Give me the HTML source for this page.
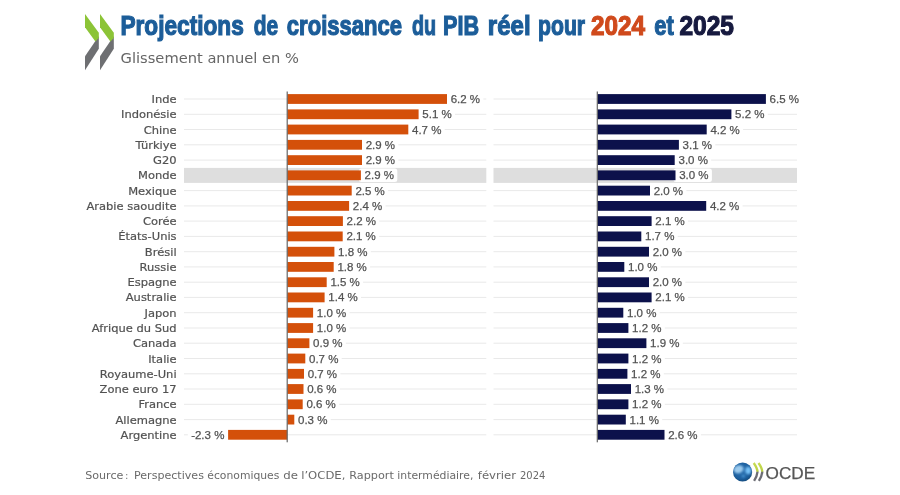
<!DOCTYPE html>
<html lang="fr"><head><meta charset="utf-8"><title>Projections de croissance du PIB réel pour 2024 et 2025</title>
<style>
html,body{margin:0;padding:0;background:#fff;}
body{width:900px;height:495px;overflow:hidden;}
svg{display:block;font-family:"DejaVu Sans","Liberation Sans",sans-serif;}
.lab{font-size:10.7px;fill:#525252;stroke:#525252;stroke-width:0.2px;text-anchor:end;}
.val{font-family:"Liberation Sans","DejaVu Sans",sans-serif;font-size:11.5px;fill:#525252;stroke:#525252;stroke-width:0.25px;}
.valr{text-anchor:end;}
.t{font-family:"Liberation Sans","DejaVu Sans Condensed",sans-serif;font-weight:bold;font-size:27.5px;}
</style></head><body>
<svg width="900" height="495" viewBox="0 0 900 495">
<rect width="900" height="495" fill="#fff"/>

<g id="chev">
<polygon points="85.00,56.20 98.80,36.00 98.80,48.80 85.00,70.20" fill="#6e6f72"/>
<polygon points="85.00,14.00 98.80,32.80 98.80,38.00 95.40,41.60 85.00,27.20" fill="#8cc437"/>
<polygon points="100.00,56.20 113.80,36.00 113.80,48.80 100.00,70.20" fill="#6e6f72"/>
<polygon points="100.00,14.00 113.80,32.80 113.80,38.00 110.40,41.60 100.00,27.20" fill="#8cc437"/>
</g>
<text class="t" y="35.3" stroke-width="1.2"><tspan x="120.4" textLength="123.4" lengthAdjust="spacingAndGlyphs" fill="#1c5d99" stroke="#1c5d99">Projections</tspan> <tspan x="253.8" textLength="24.4" lengthAdjust="spacingAndGlyphs" fill="#1c5d99" stroke="#1c5d99">de</tspan> <tspan x="286.8" textLength="115.3" lengthAdjust="spacingAndGlyphs" fill="#1c5d99" stroke="#1c5d99">croissance</tspan> <tspan x="411.9" textLength="24.2" lengthAdjust="spacingAndGlyphs" fill="#1c5d99" stroke="#1c5d99">du</tspan> <tspan x="443.1" textLength="36.0" lengthAdjust="spacingAndGlyphs" fill="#1c5d99" stroke="#1c5d99">PIB</tspan> <tspan x="487.8" textLength="42.8" lengthAdjust="spacingAndGlyphs" fill="#1c5d99" stroke="#1c5d99">réel</tspan> <tspan x="538.0" textLength="47.1" lengthAdjust="spacingAndGlyphs" fill="#1c5d99" stroke="#1c5d99">pour</tspan> <tspan x="591.0" textLength="54.0" lengthAdjust="spacingAndGlyphs" fill="#d04a1c" stroke="#d04a1c">2024</tspan> <tspan x="654.3" textLength="19.5" lengthAdjust="spacingAndGlyphs" fill="#1c5d99" stroke="#1c5d99">et</tspan> <tspan x="679.4" textLength="54.6" lengthAdjust="spacingAndGlyphs" fill="#171a3f" stroke="#171a3f">2025</tspan></text>
<text x="120.6" y="62.8" font-size="14px" fill="#666" textLength="178.3" lengthAdjust="spacingAndGlyphs">Glissement annuel en %</text>
<rect x="184" y="167.9" width="302.3" height="15" fill="#dedede"/>
<rect x="493.5" y="167.9" width="303.5" height="15" fill="#dedede"/>
<rect x="184" y="98.5" width="302.3" height="1" fill="#e9e9e9"/>
<rect x="493.5" y="98.5" width="303.5" height="1" fill="#e9e9e9"/>
<rect x="184" y="113.8" width="302.3" height="1" fill="#e9e9e9"/>
<rect x="493.5" y="113.8" width="303.5" height="1" fill="#e9e9e9"/>
<rect x="184" y="129.0" width="302.3" height="1" fill="#e9e9e9"/>
<rect x="493.5" y="129.0" width="303.5" height="1" fill="#e9e9e9"/>
<rect x="184" y="144.3" width="302.3" height="1" fill="#e9e9e9"/>
<rect x="493.5" y="144.3" width="303.5" height="1" fill="#e9e9e9"/>
<rect x="184" y="159.6" width="302.3" height="1" fill="#e9e9e9"/>
<rect x="493.5" y="159.6" width="303.5" height="1" fill="#e9e9e9"/>
<rect x="184" y="190.1" width="302.3" height="1" fill="#e9e9e9"/>
<rect x="493.5" y="190.1" width="303.5" height="1" fill="#e9e9e9"/>
<rect x="184" y="205.4" width="302.3" height="1" fill="#e9e9e9"/>
<rect x="493.5" y="205.4" width="303.5" height="1" fill="#e9e9e9"/>
<rect x="184" y="220.6" width="302.3" height="1" fill="#e9e9e9"/>
<rect x="493.5" y="220.6" width="303.5" height="1" fill="#e9e9e9"/>
<rect x="184" y="235.9" width="302.3" height="1" fill="#e9e9e9"/>
<rect x="493.5" y="235.9" width="303.5" height="1" fill="#e9e9e9"/>
<rect x="184" y="251.2" width="302.3" height="1" fill="#e9e9e9"/>
<rect x="493.5" y="251.2" width="303.5" height="1" fill="#e9e9e9"/>
<rect x="184" y="266.4" width="302.3" height="1" fill="#e9e9e9"/>
<rect x="493.5" y="266.4" width="303.5" height="1" fill="#e9e9e9"/>
<rect x="184" y="281.7" width="302.3" height="1" fill="#e9e9e9"/>
<rect x="493.5" y="281.7" width="303.5" height="1" fill="#e9e9e9"/>
<rect x="184" y="296.9" width="302.3" height="1" fill="#e9e9e9"/>
<rect x="493.5" y="296.9" width="303.5" height="1" fill="#e9e9e9"/>
<rect x="184" y="312.2" width="302.3" height="1" fill="#e9e9e9"/>
<rect x="493.5" y="312.2" width="303.5" height="1" fill="#e9e9e9"/>
<rect x="184" y="327.5" width="302.3" height="1" fill="#e9e9e9"/>
<rect x="493.5" y="327.5" width="303.5" height="1" fill="#e9e9e9"/>
<rect x="184" y="342.7" width="302.3" height="1" fill="#e9e9e9"/>
<rect x="493.5" y="342.7" width="303.5" height="1" fill="#e9e9e9"/>
<rect x="184" y="358.0" width="302.3" height="1" fill="#e9e9e9"/>
<rect x="493.5" y="358.0" width="303.5" height="1" fill="#e9e9e9"/>
<rect x="184" y="373.3" width="302.3" height="1" fill="#e9e9e9"/>
<rect x="493.5" y="373.3" width="303.5" height="1" fill="#e9e9e9"/>
<rect x="184" y="388.5" width="302.3" height="1" fill="#e9e9e9"/>
<rect x="493.5" y="388.5" width="303.5" height="1" fill="#e9e9e9"/>
<rect x="184" y="403.8" width="302.3" height="1" fill="#e9e9e9"/>
<rect x="493.5" y="403.8" width="303.5" height="1" fill="#e9e9e9"/>
<rect x="184" y="419.1" width="302.3" height="1" fill="#e9e9e9"/>
<rect x="493.5" y="419.1" width="303.5" height="1" fill="#e9e9e9"/>
<rect x="184" y="434.3" width="302.3" height="1" fill="#e9e9e9"/>
<rect x="493.5" y="434.3" width="303.5" height="1" fill="#e9e9e9"/>
<text class="lab" transform="translate(176.6,103.0) scale(1.075,1)" x="0" y="0">Inde</text>
<rect x="445.0" y="92.3" width="38.4" height="13.4" rx="2.5" fill="#fff"/>
<text class="val" x="450.7" y="103.0">6.2 %</text>
<rect x="763.9" y="92.3" width="38.4" height="13.4" rx="2.5" fill="#fff"/>
<text class="val" x="769.6" y="103.0">6.5 %</text>
<text class="lab" transform="translate(176.6,118.3) scale(1.075,1)" x="0" y="0">Indonésie</text>
<rect x="416.6" y="107.6" width="38.4" height="13.4" rx="2.5" fill="#fff"/>
<text class="val" x="422.3" y="118.3">5.1 %</text>
<rect x="729.4" y="107.6" width="38.4" height="13.4" rx="2.5" fill="#fff"/>
<text class="val" x="735.1" y="118.3">5.2 %</text>
<text class="lab" transform="translate(176.6,133.5) scale(1.075,1)" x="0" y="0">Chine</text>
<rect x="406.3" y="122.8" width="38.4" height="13.4" rx="2.5" fill="#fff"/>
<text class="val" x="412.0" y="133.5">4.7 %</text>
<rect x="704.7" y="122.8" width="38.4" height="13.4" rx="2.5" fill="#fff"/>
<text class="val" x="710.4" y="133.5">4.2 %</text>
<text class="lab" transform="translate(176.6,148.8) scale(1.075,1)" x="0" y="0">Türkiye</text>
<rect x="360.0" y="138.1" width="38.4" height="13.4" rx="2.5" fill="#fff"/>
<text class="val" x="365.7" y="148.8">2.9 %</text>
<rect x="676.9" y="138.1" width="38.4" height="13.4" rx="2.5" fill="#fff"/>
<text class="val" x="682.6" y="148.8">3.1 %</text>
<text class="lab" transform="translate(176.6,164.1) scale(1.075,1)" x="0" y="0">G20</text>
<rect x="360.0" y="153.4" width="38.4" height="13.4" rx="2.5" fill="#fff"/>
<text class="val" x="365.7" y="164.1">2.9 %</text>
<rect x="672.8" y="153.4" width="38.4" height="13.4" rx="2.5" fill="#fff"/>
<text class="val" x="678.5" y="164.1">3.0 %</text>
<text class="lab" transform="translate(176.6,179.3) scale(1.075,1)" x="0" y="0">Monde</text>
<rect x="358.9" y="168.6" width="38.4" height="13.4" rx="2.5" fill="#fff"/>
<text class="val" x="364.6" y="179.3">2.9 %</text>
<rect x="673.5" y="168.6" width="38.4" height="13.4" rx="2.5" fill="#fff"/>
<text class="val" x="679.2" y="179.3">3.0 %</text>
<text class="lab" transform="translate(176.6,194.6) scale(1.075,1)" x="0" y="0">Mexique</text>
<rect x="349.7" y="183.9" width="38.4" height="13.4" rx="2.5" fill="#fff"/>
<text class="val" x="355.4" y="194.6">2.5 %</text>
<rect x="648.0" y="183.9" width="38.4" height="13.4" rx="2.5" fill="#fff"/>
<text class="val" x="653.7" y="194.6">2.0 %</text>
<text class="lab" transform="translate(176.6,209.9) scale(1.075,1)" x="0" y="0">Arabie saoudite</text>
<rect x="347.1" y="199.2" width="38.4" height="13.4" rx="2.5" fill="#fff"/>
<text class="val" x="352.8" y="209.9">2.4 %</text>
<rect x="704.2" y="199.2" width="38.4" height="13.4" rx="2.5" fill="#fff"/>
<text class="val" x="709.9" y="209.9">4.2 %</text>
<text class="lab" transform="translate(176.6,225.1) scale(1.075,1)" x="0" y="0">Corée</text>
<rect x="340.9" y="214.4" width="38.4" height="13.4" rx="2.5" fill="#fff"/>
<text class="val" x="346.6" y="225.1">2.2 %</text>
<rect x="649.6" y="214.4" width="38.4" height="13.4" rx="2.5" fill="#fff"/>
<text class="val" x="655.3" y="225.1">2.1 %</text>
<text class="lab" transform="translate(176.6,240.4) scale(1.075,1)" x="0" y="0">États-Unis</text>
<rect x="340.7" y="229.7" width="38.4" height="13.4" rx="2.5" fill="#fff"/>
<text class="val" x="346.4" y="240.4">2.1 %</text>
<rect x="639.3" y="229.7" width="38.4" height="13.4" rx="2.5" fill="#fff"/>
<text class="val" x="645.0" y="240.4">1.7 %</text>
<text class="lab" transform="translate(176.6,255.7) scale(1.075,1)" x="0" y="0">Brésil</text>
<rect x="332.4" y="245.0" width="38.4" height="13.4" rx="2.5" fill="#fff"/>
<text class="val" x="338.1" y="255.7">1.8 %</text>
<rect x="647.0" y="245.0" width="38.4" height="13.4" rx="2.5" fill="#fff"/>
<text class="val" x="652.7" y="255.7">2.0 %</text>
<text class="lab" transform="translate(176.6,270.9) scale(1.075,1)" x="0" y="0">Russie</text>
<rect x="331.7" y="260.2" width="38.4" height="13.4" rx="2.5" fill="#fff"/>
<text class="val" x="337.4" y="270.9">1.8 %</text>
<rect x="622.3" y="260.2" width="38.4" height="13.4" rx="2.5" fill="#fff"/>
<text class="val" x="628.0" y="270.9">1.0 %</text>
<text class="lab" transform="translate(176.6,286.2) scale(1.075,1)" x="0" y="0">Espagne</text>
<rect x="324.7" y="275.5" width="38.4" height="13.4" rx="2.5" fill="#fff"/>
<text class="val" x="330.4" y="286.2">1.5 %</text>
<rect x="647.0" y="275.5" width="38.4" height="13.4" rx="2.5" fill="#fff"/>
<text class="val" x="652.7" y="286.2">2.0 %</text>
<text class="lab" transform="translate(176.6,301.4) scale(1.075,1)" x="0" y="0">Australie</text>
<rect x="322.6" y="290.7" width="38.4" height="13.4" rx="2.5" fill="#fff"/>
<text class="val" x="328.3" y="301.4">1.4 %</text>
<rect x="649.6" y="290.7" width="38.4" height="13.4" rx="2.5" fill="#fff"/>
<text class="val" x="655.3" y="301.4">2.1 %</text>
<text class="lab" transform="translate(176.6,316.7) scale(1.075,1)" x="0" y="0">Japon</text>
<rect x="311.1" y="306.0" width="38.4" height="13.4" rx="2.5" fill="#fff"/>
<text class="val" x="316.8" y="316.7">1.0 %</text>
<rect x="621.2" y="306.0" width="38.4" height="13.4" rx="2.5" fill="#fff"/>
<text class="val" x="627.0" y="316.7">1.0 %</text>
<text class="lab" transform="translate(176.6,332.0) scale(1.075,1)" x="0" y="0">Afrique du Sud</text>
<rect x="311.1" y="321.3" width="38.4" height="13.4" rx="2.5" fill="#fff"/>
<text class="val" x="316.8" y="332.0">1.0 %</text>
<rect x="626.4" y="321.3" width="38.4" height="13.4" rx="2.5" fill="#fff"/>
<text class="val" x="632.1" y="332.0">1.2 %</text>
<text class="lab" transform="translate(176.6,347.2) scale(1.075,1)" x="0" y="0">Canada</text>
<rect x="307.4" y="336.5" width="38.4" height="13.4" rx="2.5" fill="#fff"/>
<text class="val" x="313.1" y="347.2">0.9 %</text>
<rect x="644.4" y="336.5" width="38.4" height="13.4" rx="2.5" fill="#fff"/>
<text class="val" x="650.1" y="347.2">1.9 %</text>
<text class="lab" transform="translate(176.6,362.5) scale(1.075,1)" x="0" y="0">Italie</text>
<rect x="303.3" y="351.8" width="38.4" height="13.4" rx="2.5" fill="#fff"/>
<text class="val" x="309.0" y="362.5">0.7 %</text>
<rect x="626.4" y="351.8" width="38.4" height="13.4" rx="2.5" fill="#fff"/>
<text class="val" x="632.1" y="362.5">1.2 %</text>
<text class="lab" transform="translate(176.6,377.8) scale(1.075,1)" x="0" y="0">Royaume-Uni</text>
<rect x="302.0" y="367.1" width="38.4" height="13.4" rx="2.5" fill="#fff"/>
<text class="val" x="307.7" y="377.8">0.7 %</text>
<rect x="625.4" y="367.1" width="38.4" height="13.4" rx="2.5" fill="#fff"/>
<text class="val" x="631.1" y="377.8">1.2 %</text>
<text class="lab" transform="translate(176.6,393.0) scale(1.075,1)" x="0" y="0">Zone euro 17</text>
<rect x="301.5" y="382.3" width="38.4" height="13.4" rx="2.5" fill="#fff"/>
<text class="val" x="307.2" y="393.0">0.6 %</text>
<rect x="629.0" y="382.3" width="38.4" height="13.4" rx="2.5" fill="#fff"/>
<text class="val" x="634.7" y="393.0">1.3 %</text>
<text class="lab" transform="translate(176.6,408.3) scale(1.075,1)" x="0" y="0">France</text>
<rect x="300.8" y="397.6" width="38.4" height="13.4" rx="2.5" fill="#fff"/>
<text class="val" x="306.4" y="408.3">0.6 %</text>
<rect x="626.4" y="397.6" width="38.4" height="13.4" rx="2.5" fill="#fff"/>
<text class="val" x="632.1" y="408.3">1.2 %</text>
<text class="lab" transform="translate(176.6,423.6) scale(1.075,1)" x="0" y="0">Allemagne</text>
<rect x="292.3" y="412.9" width="38.4" height="13.4" rx="2.5" fill="#fff"/>
<text class="val" x="298.0" y="423.6">0.3 %</text>
<rect x="623.8" y="412.9" width="38.4" height="13.4" rx="2.5" fill="#fff"/>
<text class="val" x="629.5" y="423.6">1.1 %</text>
<text class="lab" transform="translate(176.6,438.8) scale(1.075,1)" x="0" y="0">Argentine</text>
<rect x="187.8" y="428.1" width="42.2" height="13.4" rx="2.5" fill="#fff"/>
<text class="val valr" x="224.4" y="438.8">-2.3 %</text>
<rect x="662.5" y="428.1" width="38.4" height="13.4" rx="2.5" fill="#fff"/>
<text class="val" x="668.2" y="438.8">2.6 %</text>
<rect x="287.3" y="94.1" width="159.7" height="9.8" fill="#d4500a"/>
<rect x="597.5" y="94.1" width="168.4" height="9.8" fill="#0c114b"/>
<rect x="287.3" y="109.4" width="131.3" height="9.8" fill="#d4500a"/>
<rect x="597.5" y="109.4" width="133.9" height="9.8" fill="#0c114b"/>
<rect x="287.3" y="124.6" width="121.0" height="9.8" fill="#d4500a"/>
<rect x="597.5" y="124.6" width="109.2" height="9.8" fill="#0c114b"/>
<rect x="287.3" y="139.9" width="74.7" height="9.8" fill="#d4500a"/>
<rect x="597.5" y="139.9" width="81.4" height="9.8" fill="#0c114b"/>
<rect x="287.3" y="155.2" width="74.7" height="9.8" fill="#d4500a"/>
<rect x="597.5" y="155.2" width="77.2" height="9.8" fill="#0c114b"/>
<rect x="287.3" y="170.4" width="73.6" height="9.8" fill="#d4500a"/>
<rect x="597.5" y="170.4" width="78.0" height="9.8" fill="#0c114b"/>
<rect x="287.3" y="185.7" width="64.4" height="9.8" fill="#d4500a"/>
<rect x="597.5" y="185.7" width="52.5" height="9.8" fill="#0c114b"/>
<rect x="287.3" y="201.0" width="61.8" height="9.8" fill="#d4500a"/>
<rect x="597.5" y="201.0" width="108.7" height="9.8" fill="#0c114b"/>
<rect x="287.3" y="216.2" width="55.6" height="9.8" fill="#d4500a"/>
<rect x="597.5" y="216.2" width="54.1" height="9.8" fill="#0c114b"/>
<rect x="287.3" y="231.5" width="55.4" height="9.8" fill="#d4500a"/>
<rect x="597.5" y="231.5" width="43.8" height="9.8" fill="#0c114b"/>
<rect x="287.3" y="246.8" width="47.1" height="9.8" fill="#d4500a"/>
<rect x="597.5" y="246.8" width="51.5" height="9.8" fill="#0c114b"/>
<rect x="287.3" y="262.0" width="46.4" height="9.8" fill="#d4500a"/>
<rect x="597.5" y="262.0" width="26.8" height="9.8" fill="#0c114b"/>
<rect x="287.3" y="277.3" width="39.4" height="9.8" fill="#d4500a"/>
<rect x="597.5" y="277.3" width="51.5" height="9.8" fill="#0c114b"/>
<rect x="287.3" y="292.5" width="37.3" height="9.8" fill="#d4500a"/>
<rect x="597.5" y="292.5" width="54.1" height="9.8" fill="#0c114b"/>
<rect x="287.3" y="307.8" width="25.8" height="9.8" fill="#d4500a"/>
<rect x="597.5" y="307.8" width="25.8" height="9.8" fill="#0c114b"/>
<rect x="287.3" y="323.1" width="25.8" height="9.8" fill="#d4500a"/>
<rect x="597.5" y="323.1" width="30.9" height="9.8" fill="#0c114b"/>
<rect x="287.3" y="338.3" width="22.1" height="9.8" fill="#d4500a"/>
<rect x="597.5" y="338.3" width="48.9" height="9.8" fill="#0c114b"/>
<rect x="287.3" y="353.6" width="18.0" height="9.8" fill="#d4500a"/>
<rect x="597.5" y="353.6" width="30.9" height="9.8" fill="#0c114b"/>
<rect x="287.3" y="368.9" width="16.7" height="9.8" fill="#d4500a"/>
<rect x="597.5" y="368.9" width="29.9" height="9.8" fill="#0c114b"/>
<rect x="287.3" y="384.1" width="16.2" height="9.8" fill="#d4500a"/>
<rect x="597.5" y="384.1" width="33.5" height="9.8" fill="#0c114b"/>
<rect x="287.3" y="399.4" width="15.4" height="9.8" fill="#d4500a"/>
<rect x="597.5" y="399.4" width="30.9" height="9.8" fill="#0c114b"/>
<rect x="287.3" y="414.7" width="7.0" height="9.8" fill="#d4500a"/>
<rect x="597.5" y="414.7" width="28.3" height="9.8" fill="#0c114b"/>
<rect x="228.1" y="429.9" width="59.2" height="9.8" fill="#d4500a"/>
<rect x="597.5" y="429.9" width="67.0" height="9.8" fill="#0c114b"/>
<rect x="286.6" y="91.5" width="1.2" height="350.8" fill="#666"/>
<rect x="596.7" y="91.5" width="1.2" height="350.8" fill="#666"/>
<text y="479" font-size="11px" fill="#6a6a6a"><tspan x="85.2" textLength="38.2" lengthAdjust="spacingAndGlyphs">Source</tspan> <tspan x="125.2" textLength="3.0" lengthAdjust="spacingAndGlyphs">:</tspan> <tspan x="134.0" textLength="69.9" lengthAdjust="spacingAndGlyphs">Perspectives</tspan> <tspan x="207.3" textLength="72.1" lengthAdjust="spacingAndGlyphs">économiques</tspan> <tspan x="283.3" textLength="14.7" lengthAdjust="spacingAndGlyphs">de</tspan> <tspan x="301.2" textLength="44.2" lengthAdjust="spacingAndGlyphs">l’OCDE,</tspan> <tspan x="349.3" textLength="44.6" lengthAdjust="spacingAndGlyphs">Rapport</tspan> <tspan x="397.3" textLength="76.1" lengthAdjust="spacingAndGlyphs">intermédiaire,</tspan> <tspan x="477.8" textLength="38.2" lengthAdjust="spacingAndGlyphs">février</tspan> <tspan x="520.0" textLength="25.4" lengthAdjust="spacingAndGlyphs">2024</tspan></text>
<defs><radialGradient id="gl" cx="0.45" cy="0.42" r="0.62">
<stop offset="0" stop-color="#2d74b4"/><stop offset="0.7" stop-color="#1c5f9e"/><stop offset="1" stop-color="#134877"/></radialGradient>
<clipPath id="gc"><circle cx="742.6" cy="472" r="9.5"/></clipPath>
<filter id="gb" x="-30%" y="-30%" width="160%" height="160%"><feGaussianBlur stdDeviation="1.0"/></filter></defs>
<circle cx="742.6" cy="472" r="9.6" fill="url(#gl)"/>
<g clip-path="url(#gc)" filter="url(#gb)">
<ellipse cx="738.5" cy="469.2" rx="5" ry="3.9" fill="#9ccbee" opacity="1" transform="rotate(-20 738.6 469)"/>
<ellipse cx="748.2" cy="470.5" rx="2.9" ry="3.7" fill="#74c0f6" opacity="1"/>
<ellipse cx="743.4" cy="476.2" rx="1.5" ry="1.1" fill="#5aa9e6" opacity="0.9"/>
</g>
<defs><linearGradient id="cg" gradientUnits="userSpaceOnUse" x1="0" y1="462.6" x2="0" y2="481"><stop offset="0" stop-color="#c8dc52"/><stop offset="0.46" stop-color="#b9d046"/><stop offset="0.54" stop-color="#6c6d75"/><stop offset="1" stop-color="#6c6d75"/></linearGradient></defs>
<path d="M753.7,463 Q757.3,468 757.5,471.8 Q757.1,476 754.1,480.8" fill="none" stroke="url(#cg)" stroke-width="2.3"/>
<path d="M758.5,463 Q762.1,468 762.3,471.8 Q761.9,476 758.9,480.8" fill="none" stroke="url(#cg)" stroke-width="2.3"/>
<text x="765.6" y="478.5" font-family="Liberation Sans,sans-serif" font-size="16.3px" fill="#565656" stroke="#565656" stroke-width="0.25" textLength="49.6" lengthAdjust="spacingAndGlyphs">OCDE</text>
</svg></body></html>
